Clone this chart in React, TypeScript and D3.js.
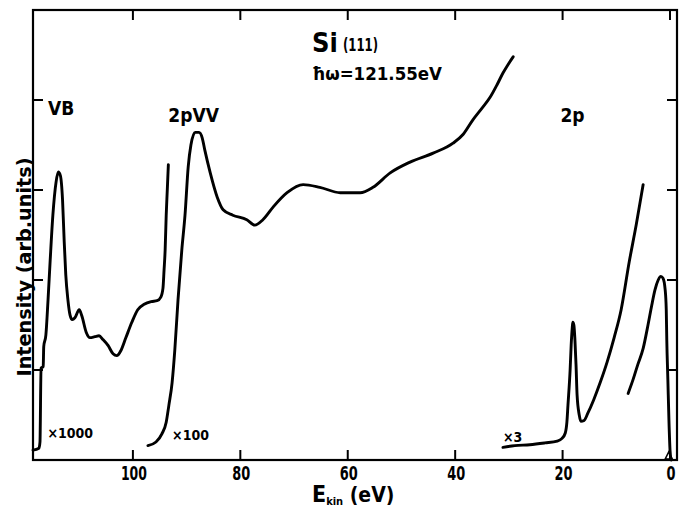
import React from "react";
import * as d3 from "d3";

// ---- Data ----
const xTicks = [100, 80, 60, 40, 20, 0];
const yTicks = [1, 2, 3, 4];

// VB spectrum (x1000): [E_kin (eV), intensity (arb.)]
const vbCurve: [number, number][] = [
  [118.6, 0.11], [117.5, 0.13], [117.3, 0.2], [117.1, 1.02], [116.7, 1.04], [116.6, 1.26],
  [116.2, 1.39], [115.8, 1.78], [115.4, 2.22], [114.9, 2.72], [114.3, 3.09], [113.9, 3.2],
  [113.5, 3.16], [113.1, 2.89], [112.8, 2.44], [112.5, 2.06], [112.1, 1.78], [111.7, 1.61],
  [111.3, 1.56], [110.8, 1.58], [110.0, 1.67], [109.5, 1.6], [108.7, 1.42], [108.0, 1.36],
  [107.1, 1.37], [106.3, 1.38], [105.6, 1.34], [104.6, 1.27], [103.7, 1.18], [103.0, 1.16],
  [102.2, 1.22], [101.3, 1.36], [100.2, 1.53], [99.1, 1.67], [97.9, 1.73], [96.6, 1.76],
  [95.5, 1.77], [94.8, 1.81], [94.4, 1.91], [94.2, 2.11], [94.0, 2.33], [93.8, 2.72],
  [93.6, 3.0], [93.4, 3.28],
];

// 2pVV Auger spectrum (x100)
const auger: [number, number][] = [
  [97.2, 0.16], [95.7, 0.2], [94.6, 0.29], [93.8, 0.42], [93.3, 0.61], [92.7, 0.86],
  [92.2, 1.22], [91.6, 1.78], [90.9, 2.33], [90.3, 2.72], [89.7, 3.26], [89.2, 3.5],
  [88.4, 3.64], [87.7, 3.64], [87.1, 3.58], [86.6, 3.44], [85.6, 3.19], [84.3, 2.92],
  [83.2, 2.78], [81.4, 2.72], [78.8, 2.67], [77.3, 2.61], [75.8, 2.67], [73.9, 2.81],
  [71.3, 2.97], [68.3, 3.06], [65.2, 3.03], [61.4, 2.97], [57.7, 2.97], [55.3, 3.03],
  [52.1, 3.19], [48.4, 3.31], [44.1, 3.41], [40.4, 3.52], [38.5, 3.62], [36.7, 3.78],
  [35.0, 3.91], [33.5, 4.03], [32.2, 4.17], [31.1, 4.3], [30.2, 4.39], [29.2, 4.48],
];

// Si 2p core level (x3)
const core2pX3: [number, number][] = [
  [31.1, 0.14], [28.9, 0.16], [26.1, 0.17], [23.3, 0.19], [21.0, 0.21], [20.1, 0.24],
  [19.5, 0.3], [19.2, 0.42], [19.0, 0.61], [18.6, 1.0], [18.4, 1.28], [18.2, 1.47],
  [18.1, 1.53], [17.9, 1.5], [17.7, 1.33], [17.5, 1.06], [17.3, 0.72], [16.9, 0.5],
  [16.6, 0.43], [16.0, 0.44], [15.3, 0.52], [14.2, 0.67], [13.0, 0.86], [11.7, 1.09],
  [10.4, 1.36], [9.1, 1.67], [7.6, 2.2], [6.3, 2.61], [5.0, 3.06],
];

// Si 2p core level (x1)
const core2p: [number, number][] = [
  [7.8, 0.74], [6.9, 0.89], [6.0, 1.06], [5.0, 1.24], [4.1, 1.5], [3.4, 1.72],
  [2.8, 1.89], [2.2, 2.0], [1.7, 2.04], [1.3, 2.02], [0.9, 1.89], [0.7, 1.67],
  [0.6, 1.33], [0.4, 0.89], [0.2, 0.44], [0.0, 0.11], [-0.2, 0.0],
];

const scaleLabels = [
  { text: "\u00d71000", e: 115.9, i: 0.245 },
  { text: "\u00d7100", e: 92.7, i: 0.225 },
  { text: "\u00d73", e: 31.1, i: 0.2 },
];
const peakLabels = [
  { text: "VB", e: 115.8, i: 3.83 },
  { text: "2pVV", e: 93.4, i: 3.76 },
  { text: "2p", e: 20.4, i: 3.76 },
];

const FONT = "'DejaVu Sans', sans-serif";

export default function App() {
  const W = 679, H = 508;
  const left = 33, right = 677, top = 10, bottom = 460;
  const x = d3.scaleLinear().domain([118.6, -1.3]).range([left, right]);
  const y = d3.scaleLinear().domain([0, 5]).range([bottom, top]);
  const line = d3
    .line<[number, number]>()
    .x((d) => x(d[0]))
    .y((d) => y(d[1]))
    .curve(d3.curveMonotoneX);

  const curves = [vbCurve, auger, core2pX3, core2p];
  const tl = 10;

  return (
    <svg
      width={W}
      height={H}
      style={{ position: "absolute", left: 0, top: 0, background: "#fff", fontStretch: "condensed" }}
      fontFamily={FONT}
      fontWeight="bold"
    >
      <rect x={0} y={0} width={W} height={H} fill="#fff" />
      {/* frame */}
      <rect x={left} y={top} width={right - left} height={bottom - top} fill="none" stroke="#000" strokeWidth={2.2} />
      {/* x ticks, inward top and bottom */}
      {xTicks.map((t) => (
        <g key={"xt" + t}>
          <line x1={x(t)} x2={x(t)} y1={bottom} y2={bottom - tl} stroke="#000" strokeWidth={2} />
          <line x1={x(t)} x2={x(t)} y1={top} y2={top + tl} stroke="#000" strokeWidth={2} />
          <text x={x(t) + 1} y={480} textAnchor="middle" fontSize={19}
            textLength={t === 100 ? 26 : t === 0 ? 9 : 18} lengthAdjust="spacingAndGlyphs">
            {t}
          </text>
        </g>
      ))}
      {/* y ticks, inward */}
      {yTicks.map((t) => (
        <g key={"yt" + t}>
          <line x1={left} x2={left + tl} y1={y(t)} y2={y(t)} stroke="#000" strokeWidth={2} />
          <line x1={right} x2={right - tl} y1={y(t)} y2={y(t)} stroke="#000" strokeWidth={2} />
        </g>
      ))}
      {/* curves */}
      {curves.map((c, k) => (
        <path key={"c" + k} d={line(c) || ""} fill="none" stroke="#000" strokeWidth={2.9} strokeLinejoin="round" strokeLinecap="round" />
      ))}
      {/* small marker at E = 0 */}
      <path
        d={`M${x(0.9)},${bottom - 1} l3.5,-7 l3.5,7 z`}
        fill="none"
        stroke="#000"
        strokeWidth={1.6}
      />
      {/* peak labels */}
      {peakLabels.map((l) => (
        <text key={l.text} x={x(l.e)} y={y(l.i)} fontSize={19}>
          {l.text}
        </text>
      ))}
      {scaleLabels.map((l) => (
        <text key={l.text} x={x(l.e)} y={y(l.i)} fontSize={14}>
          {l.text}
        </text>
      ))}
      {/* title */}
      <text x={312} y={52} fontSize={27}>Si</text>
      <text x={343} y={51} fontSize={17} textLength={35} lengthAdjust="spacingAndGlyphs">(111)</text>
      <text x={312} y={80} fontSize={18} textLength={130} lengthAdjust="spacingAndGlyphs">{"\u0127\u03c9=121.55eV"}</text>
      {/* axis labels */}
      <text x={312} y={502} fontSize={23}>
        E<tspan fontSize={11} dy={3}>kin</tspan>
        <tspan fontSize={21} dy={-3}> (eV)</tspan>
      </text>
      <text transform={`translate(31,267) rotate(-90)`} textAnchor="middle" fontSize={20}
        textLength={219} lengthAdjust="spacingAndGlyphs">
        Intensity (arb.units)
      </text>
    </svg>
  );
}
